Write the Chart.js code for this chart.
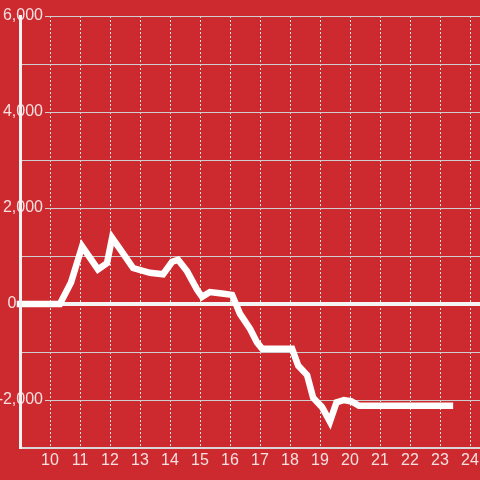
<!DOCTYPE html>
<html><head><meta charset="utf-8">
<script src="https://cdn.jsdelivr.net/npm/chart.js@4/dist/chart.umd.min.js"></script>
<style>html,body{margin:0;padding:0;background:#cc2a2f;}canvas{display:block;}</style>
</head><body>
<canvas id="c" width="480" height="480"></canvas>
<script>
const hours = [9, 10.33, 10.7, 11.07, 11.6, 11.9, 12.07, 12.33, 12.77, 13.33, 13.77, 14.07, 14.27, 14.57, 14.9, 15.07, 15.33, 15.73, 16.07, 16.33, 16.67, 16.9, 17.07, 18.07, 18.27, 18.57, 18.77, 19.07, 19.33, 19.55, 19.8, 20.05, 20.3, 23.33];
const values = [0, 0, 450, 1200, 720, 850, 1380, 1150, 750, 650, 620, 880, 920, 680, 300, 150, 250, 220, 190, -200, -520, -800, -930, -930, -1280, -1480, -1950, -2150, -2450, -2050, -2000, -2030, -2120, -2120];
const xTickValues = [10, 11, 12, 13, 14, 15, 16, 17, 18, 19, 20, 21, 22, 23, 24];
const yTickValues = [-3000, -2000, -1000, 0, 1000, 2000, 3000, 4000, 5000, 6000];
const yLabelValues = [-2000, 0, 2000, 4000, 6000];

const BG = '#cc2a2f';
const FONT = "'Liberation Sans', Arial, sans-serif";
const LABEL = 'rgba(255,255,255,0.85)';
const FSIZE = 16;

// widest y label, used to place the mirrored labels so they straddle the axis line
const mctx = document.createElement('canvas').getContext('2d');
mctx.font = 'normal ' + FSIZE + 'px ' + FONT;
const widestY = Math.max(...yLabelValues.map(v => mctx.measureText(v.toLocaleString('en-US')).width));
const yPad = (23 - widestY) / 3;

new Chart(document.getElementById('c'), {
  type: 'line',
  data: {
    datasets: [{
      data: hours.map((h, i) => ({x: h, y: values[i]})),
      borderColor: '#ffffff',
      borderWidth: 6.5,
      pointRadius: 0,
      tension: 0,
      fill: false,
      borderCapStyle: 'square',
      clip: false
    }]
  },
  options: {
    responsive: false,
    animation: false,
    devicePixelRatio: 1,
    layout: {padding: {left: 20, top: 16, right: 0, bottom: 6.8}},
    plugins: {legend: {display: false}, tooltip: {enabled: false}},
    scales: {
      x: {
        type: 'linear',
        min: 9,
        max: 24.333,
        afterBuildTicks: a => { a.ticks = xTickValues.map(v => ({value: v})); },
        afterFit: a => { a.paddingRight = 0; a.paddingLeft = 0; },
        ticks: {color: LABEL, font: {size: FSIZE, family: FONT}, padding: 3, maxRotation: 0, autoSkip: false,
                callback: v => String(v)},
        grid: {color: '#e4e4e4', lineWidth: 1, drawTicks: false},
        border: {display: true, color: '#d8d8d8', width: 2, dash: [2, 2]}
      },
      yAxisLine: {
        type: 'linear',
        position: 'left',
        weight: 1,
        min: -3000,
        max: 6000,
        ticks: {display: false},
        grid: {display: false, drawTicks: false},
        border: {display: true, color: '#f2f2f2', width: 3, z: 1}
      },
      y: {
        type: 'linear',
        position: 'left',
        weight: 0,
        min: -3000,
        max: 6000,
        afterBuildTicks: a => { a.ticks = yTickValues.map(v => ({value: v})); },
        ticks: {
          color: LABEL, font: {size: FSIZE, family: FONT},
          mirror: true, crossAlign: 'far', padding: yPad, autoSkip: false,
          callback: v => yLabelValues.includes(v) ? (v === 0 ? '0' + '\u00a0'.repeat(6) : v.toLocaleString('en-US')) : '',
          showLabelBackdrop: ctx => !!ctx.tick && ctx.tick.value !== 0 && yLabelValues.includes(ctx.tick.value),
          backdropColor: BG,
          backdropPadding: 2
        },
        grid: {
          drawTicks: false,
          color: ctx => (ctx.tick && ctx.tick.value === 0) ? '#f4f4f4' : '#cfcfcf',
          lineWidth: ctx => (ctx.tick && ctx.tick.value === 0) ? 4 : 1
        },
        border: {display: false}
      }
    }
  }
});
</script>
</body></html>
